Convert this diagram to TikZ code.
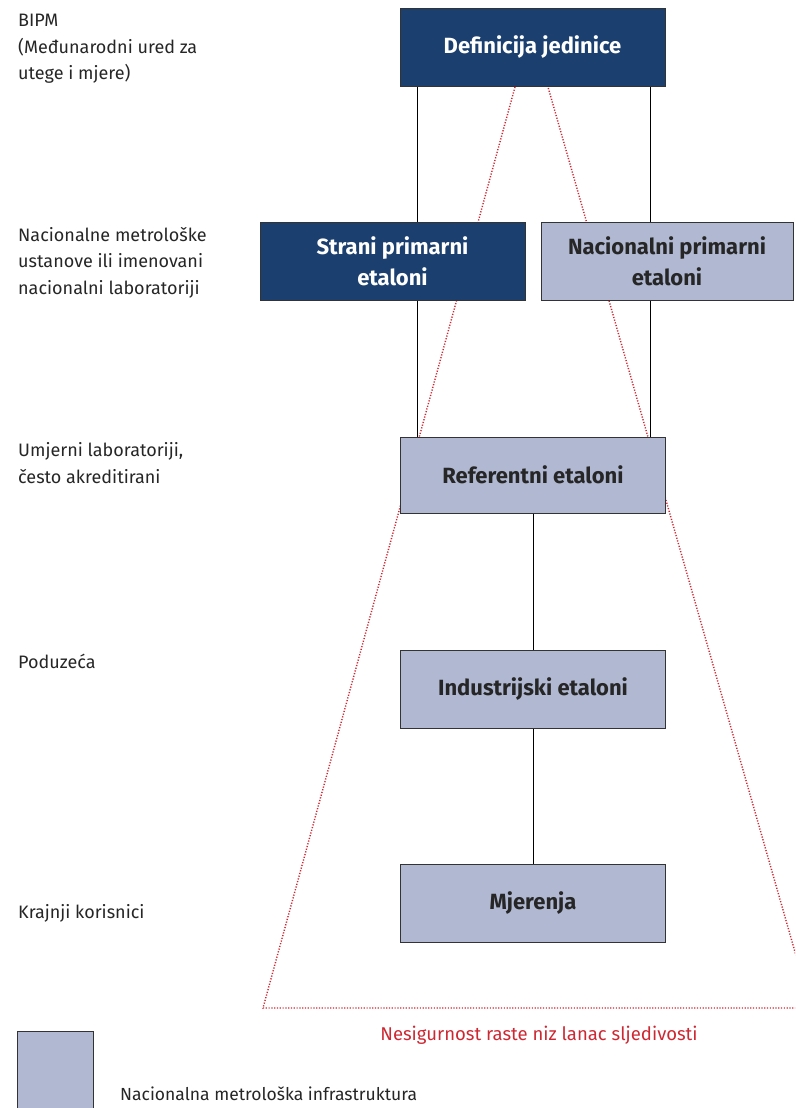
\documentclass[tikz,border=0pt]{standalone}
\usepackage{fontspec}
\setmainfont{Fira Sans}
\usetikzlibrary{calc}

\definecolor{darkblue}{RGB}{27,63,110}
\definecolor{lightblue}{RGB}{176,184,210}
\definecolor{chainred}{RGB}{205,40,50}

\begin{document}
\begin{tikzpicture}[x=1pt, y=-1pt,
    box/.style={draw=black!80, line width=1pt, minimum width=265pt, minimum height=78pt,
      inner sep=0pt, align=center, font=\fontsize{22}{31}\selectfont\bfseries},
    darkbox/.style={box, fill=darkblue, text=white},
    lightbox/.style={box, fill=lightblue, text=black!85},
    level/.style={anchor=base west, align=left, inner sep=0pt, text=black!85,
      font=\fontsize{18}{26.5}\selectfont},
    chain/.style={chainred, line width=1.4pt, dash pattern=on 1.2pt off 1.6pt}]
        \useasboundingbox (0,0) rectangle (795,1108);
        \clip (0,0) rectangle (795,1108);

        % Define the uncertainty cone
        \coordinate (CL) at (515,87);
        \coordinate (CR) at (548,87);
        \coordinate (BL) at (263,1008);
        \coordinate (BR) at (811,1008);
        \draw[chain] (CL) -- (BL) -- (BR) -- (CR);

        % Define the boxes
        \node[darkbox] (def) at (532.5,47.5) {Definicija jedinice};
        \node[darkbox] (strani) at (392.5,261) {Strani primarni\\etaloni};
        \node[lightbox, minimum width=252pt] (nac) at (667,261) {Nacionalni primarni\\etaloni};
        \node[lightbox, minimum height=76pt] (ref) at (533,475) {Referentni etaloni};
        \node[lightbox] (ind) at (533,689) {Industrijski etaloni};
        \node[lightbox] (mj) at (533,903) {Mjerenja};

        % Define the links
        \coordinate (L) at (417,0);
        \coordinate (R) at (650,0);
        \draw[line width=1pt] (def.south -| L) -- (strani.north -| L);
        \draw[line width=1pt] (def.south -| R) -- (nac.north -| R);
        \draw[line width=1pt] (strani.south -| L) -- (ref.north -| L);
        \draw[line width=1pt] (nac.south -| R) -- (ref.north -| R);
        \draw[line width=1pt] (ref) -- (ind);
        \draw[line width=1pt] (ind) -- (mj);

        % Levels of the chain (placed at the baseline of their last line)
        \node[level] (bipm) at (18,80) {BIPM\\(Međunarodni ured za\\utege i mjere)};
        \node[level] (nmi) at (18,294) {Nacionalne metrološke\\ustanove ili imenovani\\nacionalni laboratoriji};
        \node[level] (umj) at (18,483) {Umjerni laboratoriji,\\često akreditirani};
        \node[level] (pod) at (18,668) {Poduzeća};
        \node[level] (kor) at (18,918) {Krajnji korisnici};

        % Caption and legend
        \node[anchor=base, inner sep=0pt, text=chainred, font=\fontsize{18.5}{20}\selectfont] (cap) at (539,1040) {Nesigurnost raste niz lanac sljedivosti};
        \node[draw=black!80, line width=1pt, fill=lightblue, minimum width=76pt, minimum height=90pt, inner sep=0pt, anchor=north west] (leg) at (17,1031) {};
        \node[level, font=\fontsize{17.5}{20}\selectfont] (legtext) at (120,1100) {Nacionalna metrološka infrastruktura};
\end{tikzpicture}
\end{document}
